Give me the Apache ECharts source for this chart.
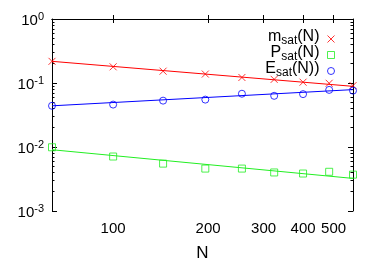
<!DOCTYPE html>
<html><head><meta charset="utf-8">
<script src="https://cdn.jsdelivr.net/npm/echarts@6/dist/echarts.min.js"></script>
<style>html,body{margin:0;padding:0;background:#fff}#c{width:382px;height:267px}</style>
</head><body><div id="c"></div>
<script>
// Data (log-log)
const N = [64, 100, 144, 196, 256, 324, 400, 484, 576];
const mSat = [0.218, 0.179, 0.153, 0.138, 0.122, 0.114, 0.103, 0.099, 0.091];
const pSat = [0.0099, 0.0071, 0.0055, 0.0046, 0.0046, 0.0040, 0.00385, 0.0041, 0.0037];
const eSat = [0.044, 0.046, 0.053, 0.055, 0.068, 0.063, 0.067, 0.078, 0.076];
// Fit lines (end points)
const fitN = [64, 576];
const mFit = [0.218, 0.0887];
const pFit = [0.00906, 0.00323];
const eFit = [0.044, 0.0788];
// Axis ticks
const xTicks = [100, 200, 300, 400, 500];
const yMinorMult = [2, 3, 4, 5, 6, 7, 8, 9];

const L = Math.log10;
const pts = (xs, ys) => xs.map((x, i) => [L(x), L(ys[i])]);
const xMin = L(N[0]), xMax = L(N[N.length - 1]);
const xTickVals = xTicks.map(L);
const yMinorVals = [];
for (let e = -3; e < 0; e++) yMinorMult.forEach(k => yMinorVals.push(L(k * Math.pow(10, e))));

const FONT = 'Liberation Sans';
const red = '#ff0000', green = '#22ee22', blue = '#0000ff';
const xSym = 'path://M0,0L10,10M10,0L0,10';

const legendRich = {
  b: {fontSize: 16, fontFamily: FONT, color: '#000', lineHeight: 15, padding: [0, 0, 4, 0]},
  s: {fontSize: 12, fontFamily: FONT, color: '#000', lineHeight: 11, verticalAlign: 'bottom'},
  e: {fontSize: 16, fontFamily: FONT, color: '#000', lineHeight: 15, padding: [0, 3, 4, 0]}
};
const legendText = {
  msat: '{b|m}{s|sat}{e|(N)}',
  Psat: '{b|P}{s|sat}{e|(N)}',
  Esat: '{b|E}{s|sat}{e|(N))}'
};

const yAxisBase = {type: 'value', min: -3, max: 0, splitLine: {show: false}};
const lineStyleAxis = {color: '#000', width: 1};

const option = {
  animation: false,
  grid: {left: 52, right: 29, top: 19, bottom: 51},
  legend: {
    data: ['msat', 'Psat', 'Esat'],
    orient: 'vertical', align: 'right',
    right: 42, top: 24, itemGap: -4,
    itemWidth: 7, itemHeight: 7,
    selectedMode: false,
    itemStyle: {borderWidth: 1},
    formatter: n => legendText[n],
    textStyle: {rich: legendRich}
  },
  xAxis: [
    {
      type: 'value', position: 'bottom', min: xMin, max: xMax,
      splitLine: {show: false},
      axisLine: {show: true, lineStyle: lineStyleAxis},
      axisTick: {show: true, inside: true, length: 4, customValues: xTickVals, lineStyle: lineStyleAxis},
      axisLabel: {customValues: xTickVals, margin: 10, fontSize: 15, fontFamily: FONT, color: '#000',
        formatter: v => String(Math.round(Math.pow(10, v)))},
      name: 'N', nameLocation: 'middle', nameGap: 34,
      nameTextStyle: {fontSize: 17, fontFamily: FONT, color: '#000'}
    },
    {
      type: 'value', position: 'top', min: xMin, max: xMax,
      splitLine: {show: false},
      axisLine: {show: true, lineStyle: lineStyleAxis},
      axisTick: {show: true, inside: true, length: 4, customValues: xTickVals, lineStyle: lineStyleAxis},
      axisLabel: {show: false}
    }
  ],
  yAxis: [
    Object.assign({}, yAxisBase, {
      position: 'left', interval: 1,
      axisLine: {show: true, lineStyle: lineStyleAxis},
      axisTick: {show: true, inside: true, length: 5, lineStyle: lineStyleAxis},
      axisLabel: {
        margin: 8,
        formatter: v => '{b|10}{sup|' + Math.round(v) + '}',
        rich: {
          b: {fontSize: 15, fontFamily: FONT, color: '#000', lineHeight: 15, padding: [4, 0, 0, 0]},
          sup: {fontSize: 11, fontFamily: FONT, color: '#000', lineHeight: 11, verticalAlign: 'top'}
        }
      }
    }),
    Object.assign({}, yAxisBase, {
      position: 'left',
      axisLine: {show: false},
      axisTick: {show: true, inside: true, length: 2.5, customValues: yMinorVals, lineStyle: lineStyleAxis},
      axisLabel: {show: false}
    }),
    Object.assign({}, yAxisBase, {
      position: 'right', interval: 1,
      axisLine: {show: true, lineStyle: lineStyleAxis},
      axisTick: {show: true, inside: true, length: 5, lineStyle: lineStyleAxis},
      axisLabel: {show: false}
    }),
    Object.assign({}, yAxisBase, {
      position: 'right',
      axisLine: {show: false},
      axisTick: {show: true, inside: true, length: 2.5, customValues: yMinorVals, lineStyle: lineStyleAxis},
      axisLabel: {show: false}
    })
  ],
  series: [
    {name: 'mfit', type: 'line', data: pts(fitN, mFit), symbol: 'none', silent: true,
      lineStyle: {color: red, width: 1}, itemStyle: {color: red}},
    {name: 'pfit', type: 'line', data: pts(fitN, pFit), symbol: 'none', silent: true,
      lineStyle: {color: green, width: 1}, itemStyle: {color: green}},
    {name: 'efit', type: 'line', data: pts(fitN, eFit), symbol: 'none', silent: true,
      lineStyle: {color: blue, width: 1}, itemStyle: {color: blue}},
    {name: 'msat', type: 'scatter', data: pts(N, mSat), symbol: xSym, symbolSize: 7, silent: true, clip: false,
      itemStyle: {color: 'transparent', borderColor: red, borderWidth: 1}},
    {name: 'Psat', type: 'scatter', data: pts(N, pSat), symbol: 'rect', symbolSize: 7, silent: true, clip: false,
      itemStyle: {color: 'transparent', borderColor: green, borderWidth: 1}},
    {name: 'Esat', type: 'scatter', data: pts(N, eSat), symbol: 'circle', symbolSize: 7, silent: true, clip: false,
      itemStyle: {color: 'transparent', borderColor: blue, borderWidth: 1}}
  ]
};
const chart = echarts.init(document.getElementById('c'), null, {renderer: 'canvas'});
chart.setOption(option);
</script>
</body></html>
